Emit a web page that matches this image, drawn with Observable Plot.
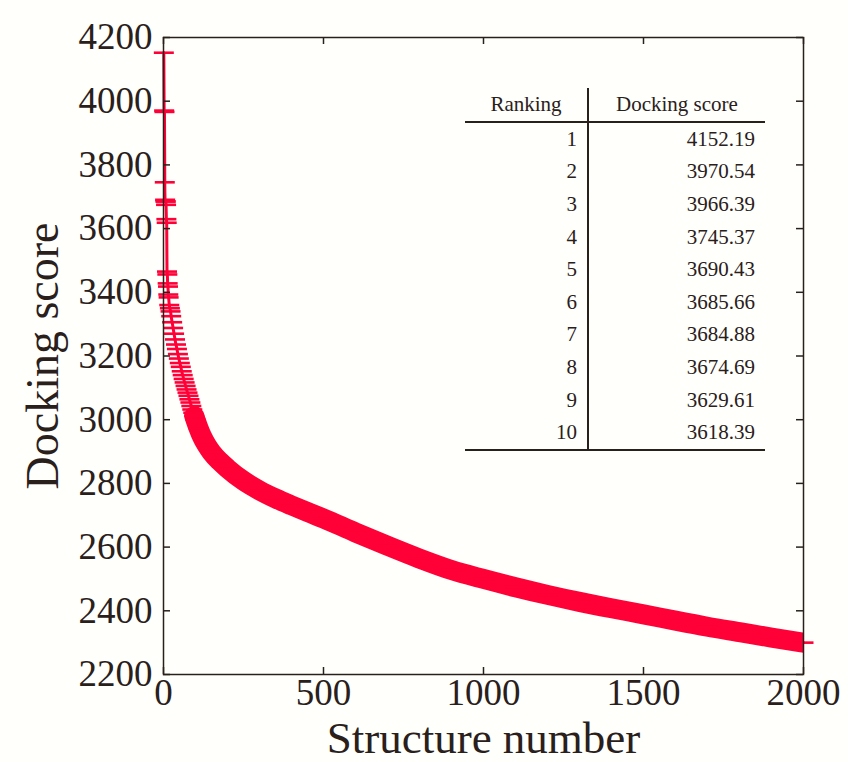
<!DOCTYPE html>
<html>
<head>
<meta charset="utf-8">
<script src="https://cdn.jsdelivr.net/npm/d3@7"></script>
<script src="https://cdn.jsdelivr.net/npm/@observablehq/plot@0.6"></script>
<style>
  body { margin: 0; background: #fffffb; }
  #wrap { position: relative; width: 848px; height: 762px; overflow: hidden; }
  #wrap svg { position: absolute; left: 0; top: 0; }
  table.rank {
    position: absolute; left: 465px; top: 88px; width: 300px;
    border-collapse: collapse; table-layout: fixed;
    font-family: "Liberation Serif", serif; font-size: 21px; color: #2a201b;
  }
  table.rank th, table.rank td { padding: 0; font-weight: normal; line-height: 1; }
  table.rank th { height: 33px; border-bottom: 2px solid #2a201b; text-align: center; vertical-align: middle; }
  table.rank td { height: 32.6px; text-align: right; vertical-align: middle; }
  table.rank .c1 { border-right: 2px solid #2a201b; padding-right: 10px; }
  table.rank th.c1 { padding-right: 0; }
  table.rank .c2 { padding-right: 10px; }
  table.rank th.c2 { padding-right: 0; }
  table.rank tr.last td { border-bottom: 2.5px solid #2a201b; }
</style>
</head>
<body>
<div id="wrap"></div>
<script>
// Structure number (rank) and docking score
const ranks = [1,2,3,4,5,6,7,8,9,10,11,12,13,14,15,16,18,20,22,24,27,30,33,36,39,42,45,48,51,54,57,60,63,66,69,72,75,78,81,84,87,90,93,96,100,110,120,135,150,175,200,250,300,350,400,450,500,600,700,800,900,1000,1100,1200,1300,1400,1500,1600,1700,1800,1900,2000];
const scores = [4152.19,3970.54,3966.39,3745.37,3690.43,3685.66,3684.88,3674.69,3629.61,3618.39,3465,3456,3428,3418,3393,3384,3360,3350,3340,3325,3306,3288,3270,3252,3236,3222,3206,3192,3178,3166,3152,3140,3128,3117,3106,3095,3085,3075,3064,3054,3043,3032,3022,3012,3000,2972,2948,2920,2898,2870,2847,2808,2778,2753,2731,2710,2690,2646,2604,2564,2528,2500,2474,2450,2428,2408,2389,2369,2350,2333,2316,2300];

// Inset table
const tableRanking = ["1","2","3","4","5","6","7","8","9","10"];
const tableScore = ["4152.19","3970.54","3966.39","3745.37","3690.43","3685.66","3684.88","3674.69","3629.61","3618.39"];
const tableHeaders = ["Ranking", "Docking score"];

// Axes
const xTicks = [0, 500, 1000, 1500, 2000];
const yTicks = [2200, 2400, 2600, 2800, 3000, 3200, 3400, 3600, 3800, 4000, 4200];
const xTitle = "Structure number";
const yTitle = "Docking score";

const data = ranks.map((r, i) => ({rank: r, score: scores[i]}));
const red = "#ff0037";
const ink = "#2a201b";
const dash = { draw(ctx, size) { const r = Math.sqrt(size / Math.PI); ctx.moveTo(-r, 0); ctx.lineTo(r, 0); } };

const W = 848, H = 762, mL = 163, mR = 45, mT = 37, mB = 88;
const pw = W - mL - mR, ph = H - mT - mB, tk = 7;

const chart = Plot.plot({
  width: W, height: H,
  marginLeft: mL, marginRight: mR, marginTop: mT, marginBottom: mB,
  style: {background: "#fffffb", fontFamily: "'Liberation Serif', serif", color: ink, overflow: "visible"},
  x: {domain: [0, 2000]},
  y: {domain: [2200, 4200]},
  marks: [
    Plot.line(data, {x: "rank", y: "score", stroke: red, strokeWidth: 3, curve: "monotone-x"}),
    Plot.line(data.filter(d => d.rank >= 96), {x: "rank", y: "score", stroke: red, strokeWidth: 20, strokeLinejoin: "round", curve: "monotone-x", clip: true}),
    Plot.dot(data, {x: "rank", y: "score", symbol: dash, r: 10, stroke: red, strokeWidth: 2.6, fill: "none"}),
    Plot.frame({stroke: ink, strokeWidth: 1.5}),
    Plot.tickX(xTicks, {x: d => d, insetTop: ph - tk, stroke: ink, strokeWidth: 1.5}),
    Plot.tickX(xTicks, {x: d => d, insetBottom: ph - tk, stroke: ink, strokeWidth: 1.5}),
    Plot.tickY(yTicks, {y: d => d, insetRight: pw - tk, stroke: ink, strokeWidth: 1.5}),
    Plot.tickY(yTicks, {y: d => d, insetLeft: pw - tk, stroke: ink, strokeWidth: 1.5}),
    Plot.axisX({ticks: xTicks, tickSize: 0, tickPadding: 4, fontSize: 37, label: null, tickFormat: d => String(d), fill: ink}),
    Plot.axisY({ticks: yTicks, tickSize: 0, tickPadding: 11, fontSize: 37, label: null, tickFormat: d => String(d), fill: ink}),
    Plot.text([xTitle], {text: d => d, frameAnchor: "bottom", textAnchor: "middle", dy: 78, fontSize: 45, fill: ink}),
    Plot.text([yTitle], {text: d => d, frameAnchor: "left", textAnchor: "middle", dx: -120, rotate: -90, fontSize: 46, fill: ink})
  ]
});

const wrap = document.getElementById("wrap");
wrap.appendChild(chart);

// Inset ranking table
const tbl = d3.select(wrap).append("table").attr("class", "rank");
const cg = tbl.append("colgroup");
cg.append("col").style("width", "123px");
cg.append("col").style("width", "177px");
const hr = tbl.append("tr");
hr.append("th").attr("class", "c1").text(tableHeaders[0]);
hr.append("th").attr("class", "c2").text(tableHeaders[1]);
tableRanking.forEach((r, i) => {
  const tr = tbl.append("tr").attr("class", i === tableRanking.length - 1 ? "last" : null);
  tr.append("td").attr("class", "c1").text(r);
  tr.append("td").attr("class", "c2").text(tableScore[i]);
});
</script>
</body>
</html>
